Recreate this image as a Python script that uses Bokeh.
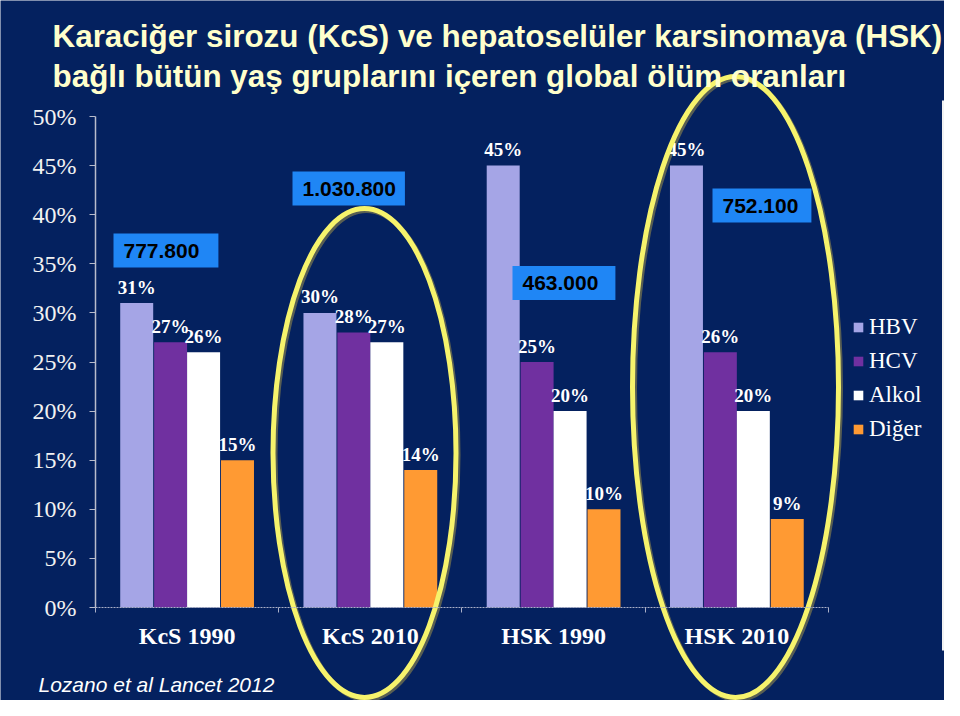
from bokeh.plotting import figure
from bokeh.models import (ColumnDataSource, FixedTicker, PrintfTickFormatter,
                          Label, Legend, LegendItem)
from bokeh.transform import dodge
from bokeh.core.properties import value
from bokeh.embed import file_html
from bokeh.resources import INLINE

# ---------------- data ----------------
categories = ["KcS 1990", "KcS 2010", "HSK 1990", "HSK 2010"]
series = ["HBV", "HCV", "Alkol", "Diğer"]
hbv = [31, 30, 45, 45]
hcv = [27, 28, 25, 26]
alkol = [26, 27, 20, 20]
diger = [15, 14, 10, 9]
deaths = ["777.800", "1.030.800", "463.000", "752.100"]
y_ticks = [0, 5, 10, 15, 20, 25, 30, 35, 40, 45, 50]
title_lines = ["Karaciğer sirozu (KcS) ve hepatoselüler karsinomaya (HSK)",
               "bağlı bütün yaş gruplarını içeren global ölüm oranları"]
source_note = "Lozano et al Lancet 2012"

# ---------------- style ----------------
BG = "#04215f"
COLORS = ["#a5a5e6", "#7030a0", "#ffffff", "#ff9a33"]
BOX = "#1f86f5"
YELLOW = "#f6f36c"
TITLE_C = "#ffffcc"

W, H = 944, 700
PXX = 183.25          # pixels per category
PXY = 9.82            # pixels per percent
CX0, CY0 = 186.6, 607  # px of category 0 centre / 0 %


def dx(px):
    return (px - CX0) / PXX


def dy(py):
    return (CY0 - py) / PXY


p = figure(width=W, height=H, x_range=(dx(0), dx(W)), y_range=(dy(H), dy(0)),
           output_backend="svg", toolbar_location=None, title=None, min_border=0,
           background_fill_color=BG, border_fill_color=BG, outline_line_color=None)
p.grid.visible = False

# y axis
ya = p.yaxis[0]
ya.fixed_location = -0.5
ya.bounds = (0, 50)
ya.ticker = FixedTicker(ticks=y_ticks, minor_ticks=[])
ya.formatter = PrintfTickFormatter(format="%d%%")
ya.major_label_text_font = "Liberation Serif"
ya.major_label_text_font_size = "24px"
ya.major_label_text_color = "#f2f2f2"
ya.axis_line_color = "#b8bccc"
ya.axis_line_width = 1.5
ya.major_tick_line_color = "#b8bccc"
ya.major_tick_out = 6
ya.major_tick_in = 0
ya.minor_tick_line_color = None
ya.major_label_standoff = 13

# x axis
xa = p.xaxis[0]
xa.fixed_location = 0
xa.bounds = (-0.5, 3.5)
xa.ticker = FixedTicker(ticks=list(range(len(categories))),
                        minor_ticks=[i - 0.5 for i in range(len(categories) + 1)])
xa.major_label_overrides = {i: c for i, c in enumerate(categories)}
xa.major_label_text_font = "Liberation Serif"
xa.major_label_text_font_style = "bold"
xa.major_label_text_font_size = "24px"
xa.major_label_text_color = "white"
xa.axis_line_color = "#aab0c8"
xa.axis_line_dash = "2 1"
xa.major_tick_line_color = None
xa.minor_tick_line_color = "#aab0c8"
xa.minor_tick_out = 5
xa.minor_tick_in = 0
xa.major_label_standoff = 9

# ellipses (decoration)
ell_x = [dx(364), dx(735)]
ell_y = [dy(452.5), dy(386.5)]
ell_w = [183 / PXX, 206 / PXX]
ell_h = [489 / PXY, 621 / PXY]
p.ellipse(x=[v + 2 / PXX for v in ell_x], y=[v - 2 / PXY for v in ell_y],
          width=ell_w, height=ell_h, fill_color=None, line_color="#6e6e50",
          line_width=5, line_alpha=0.8)

# bars
src = ColumnDataSource(dict(x=list(range(len(categories))), HBV=hbv, HCV=hcv,
                            Alkol=alkol, Diger=diger))
keys = ["HBV", "HCV", "Alkol", "Diger"]
vals = [hbv, hcv, alkol, diger]
offsets = [-0.275, -0.09, 0.09, 0.275]
renderers = []
for key, v, off, col in zip(keys, vals, offsets, COLORS):
    r = p.vbar(x=dodge("x", off), top=key, width=0.18, source=src,
               fill_color=col, line_color=None)
    renderers.append(r)
    src.data[key + "_lbl"] = [f"{n}%" for n in v]
for key, off in zip(keys, offsets):
    p.text(x=dodge("x", off), y=key, text=key + "_lbl", source=src,
           text_align="center", text_baseline="alphabetic", y_offset=-16,
           text_font=value("Liberation Serif"), text_font_style="bold",
           text_font_size="19px", text_color="white")

p.ellipse(x=ell_x, y=ell_y, width=ell_w, height=ell_h, fill_color=None,
          line_color=YELLOW, line_width=5)

# right border line of the slide table
p.segment(x0=[dx(943)], y0=[dy(100)], x1=[dx(943)], y1=[dy(650)],
          line_color="#f2f2f2", line_width=3)

# death count boxes
box_left = [113, 292, 512, 712]
box_cy = [250, 188, 282.5, 205]
box_rpad = [19, 9, 17, 13]
for txt, lx, cy, rp in zip(deaths, box_left, box_cy, box_rpad):
    p.add_layout(Label(x=dx(lx), y=dy(cy), text=txt, text_align="left",
                       text_baseline="middle", text_font="Liberation Sans",
                       text_font_style="bold", text_font_size="21px",
                       text_color="black", background_fill_color=BOX,
                       padding=dict(left=10, right=rp, top=10, bottom=10)))

# titles
p.add_layout(Label(x=dx(52), y=dy(36), text=title_lines[0], text_baseline="alphabetic",
                   text_font="Liberation Sans", text_font_style="bold",
                   text_font_size="31.4px", text_color=TITLE_C))
p.add_layout(Label(x=dx(52), y=dy(76), text=title_lines[1], text_baseline="alphabetic",
                   text_font="Liberation Sans", text_font_style="bold",
                   text_font_size="31.4px", text_color=TITLE_C))
p.add_layout(Label(x=dx(38), y=dy(684), text=source_note, text_baseline="alphabetic",
                   text_font="Liberation Sans", text_font_style="italic",
                   text_font_size="21px", text_color="white"))

# legend
legend = Legend(items=[LegendItem(label=s, renderers=[r]) for s, r in zip(series, renderers)],
                location=(852, 258), orientation="vertical",
                glyph_width=12, glyph_height=12, label_standoff=5, spacing=8,
                padding=0, margin=0, border_line_color=None, background_fill_alpha=0,
                label_text_font="Liberation Serif", label_text_font_size="23px",
                label_text_color="white")
p.add_layout(legend)

open("out.html", "w").write(file_html(p, INLINE))
